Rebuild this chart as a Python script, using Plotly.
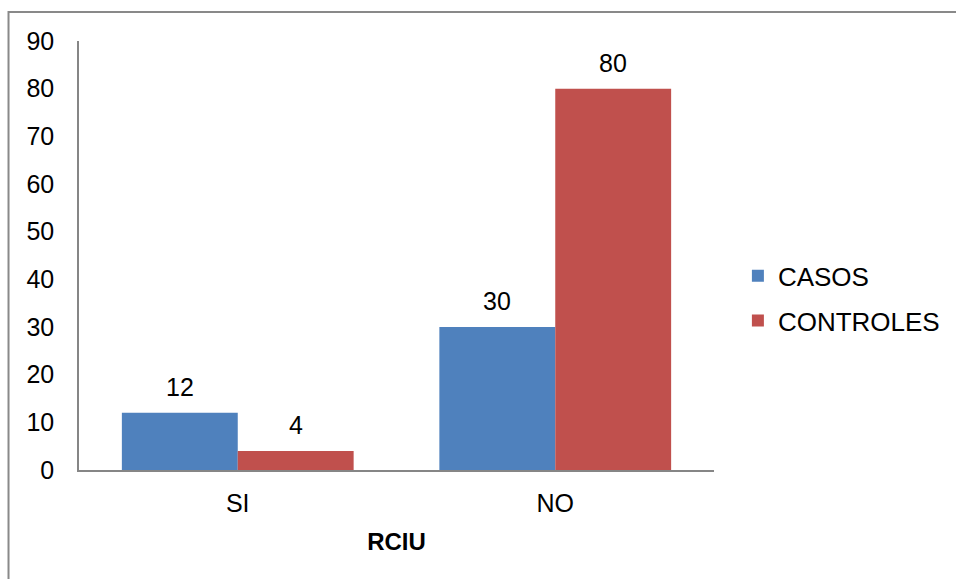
import plotly.graph_objects as go

categories = ["SI", "NO"]
casos = [12, 30]
controles = [4, 80]
series_names = ["CASOS", "CONTROLES"]
series_colors = ["#4F81BD", "#C0504D"]
y_ticks = list(range(0, 100, 10))

FONT = "Liberation Sans, Arial, sans-serif"

fig = go.Figure()
for name, vals, col, grp in zip(series_names, [casos, controles], series_colors, ["a", "b"]):
    fig.add_trace(go.Bar(
        x=categories, y=vals, name=name, marker_color=col,
        marker_line_width=0, legendgroup=grp,
    ))

# value labels above each bar
offsets = [-0.1825, 0.1825]
for vals, off in zip([casos, controles], offsets):
    for i, v in enumerate(vals):
        fig.add_annotation(
            x=i + off, y=v, xref="x", yref="y", text=str(v),
            showarrow=False, yanchor="bottom", yshift=10,
            font=dict(family=FONT, size=25, color="#000000"),
        )

# outer chart frame (right and bottom edges fall outside the canvas)
fig.add_shape(type="rect", xref="paper", yref="paper",
              x0=-0.111, x1=1.6, y0=-0.5, y1=1.0676,
              line=dict(color="#898989", width=2), layer="below")

fig.update_layout(
    width=956, height=579,
    margin=dict(l=79, r=241, t=41, b=109),
    paper_bgcolor="white", plot_bgcolor="white",
    barmode="group", bargap=0.27, bargroupgap=0,
    font=dict(family=FONT, size=25, color="#000000"),
    showlegend=True,
    legend=dict(x=1.036, y=0.40, xanchor="left", yanchor="middle",
                font=dict(family=FONT, size=26), tracegroupgap=8,
                traceorder="grouped", bgcolor="rgba(0,0,0,0)"),
    xaxis=dict(
        type="category", showline=True, linecolor="#868686", linewidth=1.5,
        ticks="", showgrid=False, zeroline=False, ticklabelstandoff=10,
        tickfont=dict(size=25),
        title=dict(text="<b>RCIU</b>", font=dict(family=FONT, size=24), standoff=17),
        range=[-0.5, 1.5],
    ),
    yaxis=dict(
        range=[0, 90], tickvals=y_ticks, showline=True, linecolor="#868686",
        linewidth=1.5, ticks="", showgrid=False, zeroline=False,
        ticklabelstandoff=18, tickfont=dict(size=25),
    ),
)

fig.write_html("out.html")
